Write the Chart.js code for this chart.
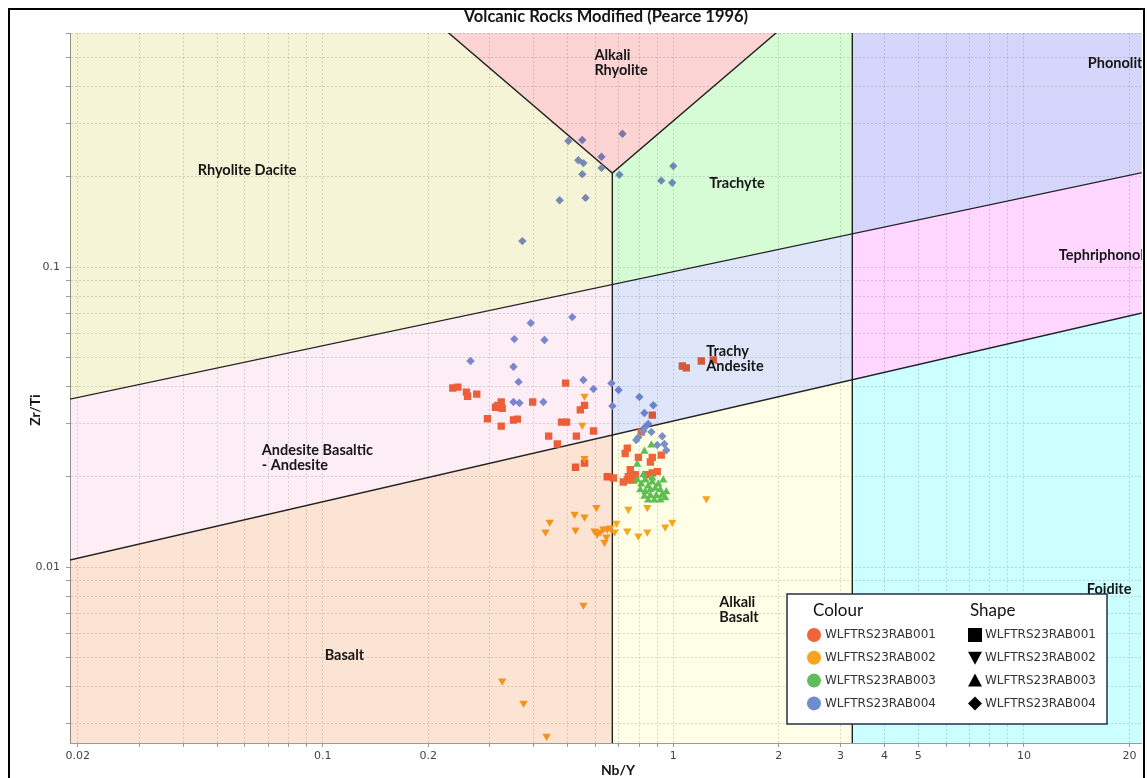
<!DOCTYPE html>
<html>
<head>
<meta charset="utf-8">
<script src="https://cdn.jsdelivr.net/npm/chart.js@4"></script>
<style>
  html, body { margin: 0; padding: 0; background: #fff; }
  canvas { display: block; }
</style>
</head>
<body>
<canvas id="pearce" width="1147" height="778"></canvas>
<script>
// Sample ratios [Nb/Y, Zr/Ti] for each drill hole
const rab001 = [
  [0.235, 0.0395], [0.243, 0.0398], [0.257, 0.0383], [0.259, 0.0371], [0.275, 0.0377],
  [0.493, 0.0410], [0.397, 0.0355], [0.311, 0.0341], [0.323, 0.0355], [0.325, 0.0338],
  [0.316, 0.0346], [0.295, 0.0312], [0.350, 0.0309], [0.359, 0.0311], [0.323, 0.0295],
  [0.480, 0.0304], [0.496, 0.0304], [0.543, 0.0334], [0.558, 0.0346], [0.441, 0.0273],
  [0.529, 0.0273], [0.592, 0.0284], [0.467, 0.0257], [0.871, 0.0321], [1.061, 0.0468],
  [1.089, 0.0461], [1.202, 0.0486], [1.300, 0.0490], [0.810, 0.0282], [0.739, 0.0249],
  [0.729, 0.0239], [0.795, 0.0232], [0.871, 0.0232], [0.860, 0.0224], [0.924, 0.0236],
  [0.558, 0.0222], [0.526, 0.0215], [0.648, 0.0200], [0.675, 0.0198], [0.754, 0.0211],
  [0.764, 0.0203], [0.739, 0.0195], [0.720, 0.0192], [0.769, 0.0195], [0.744, 0.0200],
  [0.779, 0.0203], [0.837, 0.0203], [0.871, 0.0206], [0.900, 0.0208]
];
const rab002 = [
  [0.558, 0.0371], [0.550, 0.0297], [0.558, 0.0230], [1.242, 0.0169], [0.603, 0.0158],
  [0.744, 0.0156], [0.843, 0.0158], [0.523, 0.0150], [0.558, 0.0147], [0.444, 0.0141],
  [0.432, 0.0131], [0.526, 0.0133], [0.596, 0.0132], [0.607, 0.0129], [0.619, 0.0131],
  [0.632, 0.0134], [0.648, 0.0134], [0.662, 0.0135], [0.644, 0.0126], [0.636, 0.0121],
  [0.688, 0.0140], [0.680, 0.0131], [0.739, 0.0132], [0.795, 0.0127], [0.843, 0.0131],
  [0.948, 0.0136], [0.993, 0.0141], [0.554, 0.00747], [0.325, 0.00417], [0.374, 0.00352],
  [0.435, 0.00273]
];
const rab003 = [
  [0.866, 0.0255], [0.827, 0.0243], [0.789, 0.0220], [0.821, 0.0203], [0.789, 0.0195],
  [0.810, 0.0189], [0.832, 0.0195], [0.848, 0.0186], [0.871, 0.0192], [0.888, 0.0183],
  [0.860, 0.0181], [0.832, 0.0178], [0.906, 0.0189], [0.918, 0.0181], [0.930, 0.0174],
  [0.894, 0.0173], [0.860, 0.0173], [0.827, 0.0172], [0.848, 0.0167], [0.883, 0.0167],
  [0.918, 0.0167], [0.948, 0.0170], [0.955, 0.0178], [0.805, 0.0181], [0.871, 0.0198],
  [0.936, 0.0195]
];
const rab004 = [
  [0.502, 0.263], [0.550, 0.265], [0.716, 0.278], [0.624, 0.233], [0.536, 0.227],
  [0.554, 0.222], [0.624, 0.214], [0.550, 0.204], [0.702, 0.203], [1.000, 0.217],
  [0.924, 0.194], [0.993, 0.191], [0.562, 0.170], [0.474, 0.167], [0.371, 0.122],
  [0.515, 0.0681], [0.392, 0.0651], [0.352, 0.0575], [0.429, 0.0571], [0.264, 0.0486],
  [0.350, 0.0465], [0.362, 0.0414], [0.554, 0.0420], [0.592, 0.0392], [0.666, 0.0410],
  [0.698, 0.0389], [0.350, 0.0355], [0.364, 0.0352], [0.426, 0.0355], [0.670, 0.0344],
  [0.800, 0.0369], [0.877, 0.0346], [0.827, 0.0326], [0.848, 0.0300], [0.821, 0.0284],
  [0.795, 0.0271], [0.866, 0.0282], [0.930, 0.0273], [0.900, 0.0255], [0.943, 0.0257],
  [0.955, 0.0245], [0.784, 0.0265], [0.832, 0.0293]
];

const holeNames = ['WLFTRS23RAB001', 'WLFTRS23RAB002', 'WLFTRS23RAB003', 'WLFTRS23RAB004'];
const holeColours = ['#f0643c', '#f7a51e', '#5fbe5a', '#7a90d8'];
const legendColours = ['#f0643c', '#f7a51e', '#5fbe5a', '#6f8bd2'];

// axis ranges and tick positions
const xRange = [0.01902, 21.69];
const yRange = [0.002591, 0.6026];
const xTicks = [0.02, 0.03, 0.04, 0.05, 0.06, 0.07, 0.08, 0.09,
  0.1, 0.2, 0.3, 0.4, 0.5, 0.6, 0.7, 0.8, 0.9, 1, 2, 3, 4, 5, 6, 7, 8, 9, 10, 20];
const xTickLabels = [0.02, 0.1, 0.2, 1, 2, 3, 4, 5, 10, 20];
const yTicks = [0.003, 0.004, 0.005, 0.006, 0.007, 0.008, 0.009,
  0.01, 0.02, 0.03, 0.04, 0.05, 0.06, 0.07, 0.08, 0.09, 0.1, 0.2, 0.3, 0.4, 0.5, 0.6];
const yTickLabels = [0.01, 0.1];

// field boundaries (log-log straight lines)
const nbyLow = 0.67;      // sub-alkaline / alkaline split
const nbyHigh = 3.24;     // alkaline / ultra-alkaline split
const apex = [0.67, 0.2057];
const upperLine = { a: -1.0154, b: 0.2469 };   // log y = a + b log x
const lowerLine = { a: -1.5132, b: 0.2691 };

const lineY = (l, x) => Math.pow(10, l.a + l.b * Math.log10(x));
const U = x => lineY(upperLine, x);
const L = x => lineY(lowerLine, x);
const x0 = 0.015, x1 = 25, y0 = 0.002, y1 = 0.7;
const vLeftX = y => apex[0] * apex[1] / y;     // x*y constant
const vRightX = y => y * apex[0] / apex[1];    // y/x constant

const fields = [
  { name: 'Rhyolite Dacite', color: '#f6f4d6',
    pts: [[x0, U(x0)], [nbyLow, U(nbyLow)], apex, [vLeftX(y1), y1], [x0, y1]] },
  { name: 'Alkali Rhyolite', color: '#fcd4d4',
    pts: [apex, [vLeftX(y1), y1], [vRightX(y1), y1]] },
  { name: 'Trachyte', color: '#d6fcd6',
    pts: [[nbyLow, U(nbyLow)], [nbyHigh, U(nbyHigh)], [nbyHigh, y1], [vRightX(y1), y1], apex] },
  { name: 'Phonolite', color: '#d6d6fc',
    pts: [[nbyHigh, U(nbyHigh)], [x1, U(x1)], [x1, y1], [nbyHigh, y1]] },
  { name: 'Andesite', color: '#fdeef6',
    pts: [[x0, L(x0)], [nbyLow, L(nbyLow)], [nbyLow, U(nbyLow)], [x0, U(x0)]] },
  { name: 'Trachy Andesite', color: '#dfe6fa',
    pts: [[nbyLow, L(nbyLow)], [nbyHigh, L(nbyHigh)], [nbyHigh, U(nbyHigh)], [nbyLow, U(nbyLow)]] },
  { name: 'Tephriphonolite', color: '#ffd6ff',
    pts: [[nbyHigh, L(nbyHigh)], [x1, L(x1)], [x1, U(x1)], [nbyHigh, U(nbyHigh)]] },
  { name: 'Basalt', color: '#fce4d5',
    pts: [[x0, y0], [nbyLow, y0], [nbyLow, L(nbyLow)], [x0, L(x0)]] },
  { name: 'Alkali Basalt', color: '#ffffe8',
    pts: [[nbyLow, y0], [nbyHigh, y0], [nbyHigh, L(nbyHigh)], [nbyLow, L(nbyLow)]] },
  { name: 'Foidite', color: '#ccffff',
    pts: [[nbyHigh, y0], [x1, y0], [x1, L(x1)], [nbyHigh, L(nbyHigh)]] }
];

const boundaries = [
  [[x0, U(x0)], [x1, U(x1)]],
  [[x0, L(x0)], [x1, L(x1)]],
  [[nbyLow, y0], apex],
  [[vLeftX(y1), y1], apex, [vRightX(y1), y1]],
  [[nbyHigh, y0], [nbyHigh, y1]]
];

// field names, anchored at their left edge in data units
const fieldLabels = [
  { lines: ['Rhyolite Dacite'], x: 0.0440, y: 0.2106 },
  { lines: ['Alkali', 'Rhyolite'], x: 0.5955, y: 0.509 },
  { lines: ['Trachyte'], x: 1.266, y: 0.1906 },
  { lines: ['Phonolite'], x: 15.22, y: 0.4786 },
  { lines: ['Tephriphonolite'], x: 12.58, y: 0.1096 },
  { lines: ['Trachy', 'Andesite'], x: 1.242, y: 0.0525 },
  { lines: ['Andesite Basaltic', '- Andesite'], x: 0.0670, y: 0.0244 },
  { lines: ['Alkali', 'Basalt'], x: 1.352, y: 0.00764 },
  { lines: ['Basalt'], x: 0.1013, y: 0.00509 },
  { lines: ['Foidite'], x: 15.12, y: 0.00845 }
];

const toXY = arr => arr.map(p => ({ x: p[0], y: p[1] }));

const fieldsPlugin = {
  id: 'fields',
  afterDatasetsDraw(chart) {
    const { ctx, chartArea: a, scales: { x, y } } = chart;
    ctx.save();
    ctx.beginPath();
    ctx.rect(a.left, a.top, a.right - a.left, a.bottom - a.top);
    ctx.clip();
    // tint everything under each field, like a transparency overlay
    ctx.globalCompositeOperation = 'multiply';
    fields.forEach(f => {
      ctx.beginPath();
      f.pts.forEach((p, i) => {
        const px = x.getPixelForValue(p[0]), py = y.getPixelForValue(p[1]);
        if (i) ctx.lineTo(px, py); else ctx.moveTo(px, py);
      });
      ctx.closePath();
      ctx.fillStyle = f.color;
      ctx.fill();
    });
    ctx.globalCompositeOperation = 'source-over';
    ctx.fillStyle = '#161616';
    ctx.font = 'bold 14.5px Lato';
    ctx.textAlign = 'left';
    ctx.textBaseline = 'middle';
    fieldLabels.forEach(l => {
      const px = x.getPixelForValue(l.x), py = y.getPixelForValue(l.y);
      l.lines.forEach((t, i) => ctx.fillText(t, px, py + i * 15));
    });
    ctx.restore();
  },
  afterDraw(chart) {
    const { ctx, chartArea: a } = chart;
    ctx.save();
    // title and axis titles
    ctx.fillStyle = '#161616';
    ctx.textAlign = 'center';
    ctx.textBaseline = 'middle';
    ctx.font = 'bold 16.5px Lato';
    ctx.fillText('Volcanic Rocks Modified (Pearce 1996)', (a.left + a.right) / 2, 17);
    ctx.font = 'bold 14px Lato';
    ctx.fillText('Nb/Y', 618, 770);
    ctx.translate(35, 410);
    ctx.rotate(-Math.PI / 2);
    ctx.fillText('Zr/Ti', 0, 0);
    ctx.restore();

    // legend box
    ctx.save();
    const bx = 787, by = 594, bw = 320, bh = 130;
    ctx.fillStyle = '#fff';
    ctx.fillRect(bx, by, bw, bh);
    ctx.strokeStyle = '#22304d';
    ctx.lineWidth = 1.5;
    ctx.strokeRect(bx, by, bw, bh);
    ctx.fillStyle = '#111';
    ctx.font = '17px Lato';
    ctx.textAlign = 'left';
    ctx.textBaseline = 'middle';
    ctx.fillText('Colour', 813, 611);
    ctx.fillText('Shape', 970, 611);
    ctx.font = '12px "DejaVu Sans"';
    const shapes = ['rect', 'down', 'up', 'diamond'];
    holeNames.forEach((n, i) => {
      const ry = 635 + i * 22.8;
      ctx.fillStyle = legendColours[i];
      ctx.beginPath();
      ctx.arc(814, ry, 7, 0, Math.PI * 2);
      ctx.fill();
      ctx.fillStyle = '#333';
      ctx.fillText(n, 825, ry);
      ctx.fillText(n, 985, ry);
      ctx.fillStyle = '#000';
      ctx.beginPath();
      const cx = 975;
      if (shapes[i] === 'rect') ctx.rect(cx - 7, ry - 7, 14, 14);
      if (shapes[i] === 'down') { ctx.moveTo(cx - 7, ry - 6); ctx.lineTo(cx + 7, ry - 6); ctx.lineTo(cx, ry + 7); }
      if (shapes[i] === 'up') { ctx.moveTo(cx - 7, ry + 6); ctx.lineTo(cx + 7, ry + 6); ctx.lineTo(cx, ry - 7); }
      if (shapes[i] === 'diamond') { ctx.moveTo(cx, ry - 7); ctx.lineTo(cx + 7, ry); ctx.lineTo(cx, ry + 7); ctx.lineTo(cx - 7, ry); }
      ctx.closePath();
      ctx.fill();
    });
    // outer frame
    ctx.strokeStyle = '#000';
    ctx.lineWidth = 2;
    ctx.strokeRect(9, 9, 1135, 800);
    ctx.restore();
  }
};

const pointSet = (data, i, style, radius, rotation, order) => ({
  data: toXY(data),
  label: holeNames[i],
  pointStyle: style,
  pointRadius: radius,
  rotation: rotation,
  backgroundColor: holeColours[i],
  borderColor: holeColours[i],
  borderWidth: 0,
  order: order
});

const boundarySets = boundaries.map(b => ({
  data: toXY(b),
  showLine: true,
  pointRadius: 0,
  borderColor: '#222',
  borderWidth: 1.4,
  fill: false,
  clip: 0,
  order: 10
}));

new Chart(document.getElementById('pearce'), {
  type: 'scatter',
  data: {
    datasets: [
      pointSet(rab004, 3, 'rectRot', 4.2, 0, 1),
      pointSet(rab003, 2, 'triangle', 4.8, 0, 2),
      pointSet(rab002, 1, 'triangle', 4.8, 180, 3),
      pointSet(rab001, 0, 'rect', 5.2, 0, 4),
      ...boundarySets
    ]
  },
  options: {
    responsive: false,
    animation: false,
    layout: { padding: { left: 8, top: 33, right: 5, bottom: 0 } },
    plugins: {
      legend: { display: false },
      title: { display: false },
      tooltip: { enabled: false }
    },
    scales: {
      x: {
        type: 'logarithmic',
        min: xRange[0],
        max: xRange[1],
        afterBuildTicks: s => { s.ticks = xTicks.map(v => ({ value: v })); },
        afterFit: s => { s.height = 35; },
        grid: { color: 'rgba(150,150,150,0.35)', tickLength: 4, tickColor: '#999' },
        border: { display: true, color: '#9a9a9a', dash: [2, 2] },
        ticks: {
          autoSkip: false,
          maxRotation: 0,
          padding: 3,
          color: '#444',
          font: { family: 'DejaVu Sans', size: 11 },
          callback: v => xTickLabels.includes(v) ? String(v) : ''
        }
      },
      y: {
        type: 'logarithmic',
        min: yRange[0],
        max: yRange[1],
        afterBuildTicks: s => { s.ticks = yTicks.map(v => ({ value: v })); },
        afterFit: s => { s.width = 62; },
        grid: { color: 'rgba(150,150,150,0.35)', tickLength: 4, tickColor: '#999' },
        border: { display: true, color: '#9a9a9a', dash: [2, 2] },
        ticks: {
          autoSkip: false,
          padding: 6,
          color: '#444',
          font: { family: 'DejaVu Sans', size: 11 },
          callback: v => yTickLabels.includes(v) ? String(v) : ''
        }
      }
    }
  },
  plugins: [fieldsPlugin]
});
</script>
</body>
</html>
